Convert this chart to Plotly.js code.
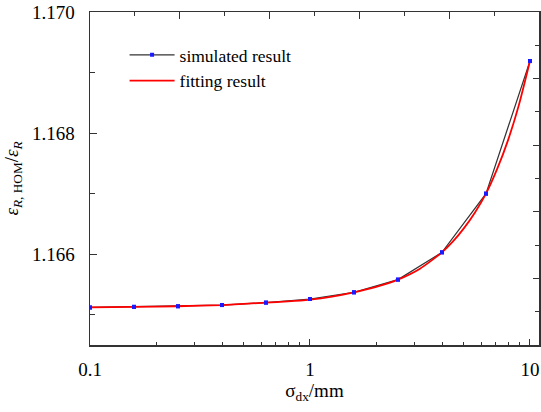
<!DOCTYPE html>
<html>
<head>
<meta charset="utf-8">
<script src="https://cdn.plot.ly/plotly-3.0.1.min.js"></script>
<style>html,body{margin:0;padding:0;background:#fff;}#chart{width:541px;height:412px;}</style>
</head>
<body>
<div id="chart"></div>
<script>
// simulated result
var simX = [0.1, 0.1585, 0.2512, 0.3981, 0.631, 1, 1.585, 2.512, 3.981, 6.31, 10];
var simY = [1.16512, 1.16513, 1.16514, 1.16516, 1.16520, 1.16526, 1.16537, 1.16558, 1.16603, 1.16700, 1.16919];
// fitting result
var fitX = [0.1, 0.1585, 0.2512, 0.3981, 0.631, 0.794, 1, 1.259, 1.585, 2.0, 2.512, 3.162, 3.981, 4.467, 5.012, 5.623, 6.31, 7.079, 7.943, 8.913, 10];
var fitY = [1.16512, 1.16513, 1.16514, 1.16516, 1.16520, 1.16522, 1.16525, 1.16530, 1.16537, 1.16546, 1.16558, 1.16576, 1.16603, 1.16621, 1.16643, 1.16669, 1.16700, 1.16740, 1.16788, 1.16847, 1.16919];
// axis ticks
var xTickVals = [0.1, 1, 10];
var xTickText = ['0.1', '1', '10'];
var yTickVals = [1.166, 1.168, 1.170];
var yTickText = ['1.166', '1.168', '1.170'];

var FONT = 'Liberation Serif, Times New Roman, serif';
var AX = '#333333';

var traces = [
  {x: simX, y: simY, mode: 'lines+markers', name: 'simulated result', legendrank: 1,
   line: {color: '#333333', width: 1.2}, marker: {symbol: 'square', size: 4, color: '#1a1aff'}},
  {x: fitX, y: fitY, mode: 'lines', name: 'fitting result', legendrank: 2,
   line: {color: '#ff0000', width: 1.8, shape: 'spline', smoothing: 0.6}},
  {x: simX, y: simY, mode: 'markers', showlegend: false, hoverinfo: 'skip',
   marker: {symbol: 'square', size: 4, color: '#1a1aff'}},
  {x: [], y: [], xaxis: 'x2', yaxis: 'y2', showlegend: false, hoverinfo: 'skip'}
];

var layout = {
  width: 541, height: 412,
  margin: {l: 90, r: 2, t: 12, b: 67},
  paper_bgcolor: '#ffffff', plot_bgcolor: '#ffffff',
  font: {family: FONT, size: 19, color: '#000'},
  showlegend: true,
  legend: {x: 0.077, y: 0.925, xanchor: 'left', yanchor: 'top', bgcolor: 'rgba(0,0,0,0)',
           font: {family: FONT, size: 17.5, color: '#000'}, itemwidth: 45, tracegroupgap: 0},
  xaxis: {
    type: 'log', range: [-1, 1.041], showgrid: false, zeroline: false,
    showline: true, linecolor: AX, linewidth: 1.5, mirror: false,
    tickmode: 'array', tickvals: xTickVals, ticktext: xTickText,
    ticks: 'inside', ticklen: 6, tickcolor: AX, tickwidth: 1,
    minor: {ticks: 'inside', ticklen: 3, tickcolor: AX, dtick: 'D1', showgrid: false},
    ticklabelstandoff: 7,
    tickfont: {family: FONT, size: 19, color: '#000'},
    title: {text: 'σ<sub>dx</sub>/mm', font: {family: FONT, size: 19, color: '#000'}, standoff: 4}
  },
  yaxis: {
    range: [1.1645, 1.170], showgrid: false, zeroline: false,
    showline: true, linecolor: AX, linewidth: 1.5, mirror: false,
    tickmode: 'array', tickvals: yTickVals, ticktext: yTickText,
    ticks: 'inside', ticklen: 7, tickcolor: AX, tickwidth: 1,
    minor: {ticks: 'inside', ticklen: 5, tickcolor: AX, dtick: 0.001, showgrid: false},
    ticklabelstandoff: 10,
    tickfont: {family: FONT, size: 19, color: '#000'},
    title: {text: '<i>ε</i><sub><i>R</i>, HOM</sub>/<i>ε</i><sub><i>R</i></sub>', font: {family: FONT, size: 19, color: '#000'}, standoff: 8}
  },
  xaxis2: {
    overlaying: 'x', side: 'top', anchor: 'y2', range: [0, 10], showgrid: false, zeroline: false,
    showline: true, linecolor: AX, linewidth: 1.5, showticklabels: false,
    dtick: 2, ticks: 'inside', ticklen: 7, tickcolor: AX, tickwidth: 1,
    minor: {ticks: 'inside', ticklen: 4, tickcolor: AX, dtick: 1, showgrid: false}
  },
  yaxis2: {
    overlaying: 'y', side: 'right', anchor: 'x2', range: [0, 10], showgrid: false, zeroline: false,
    showline: true, linecolor: AX, linewidth: 1.5, showticklabels: false,
    dtick: 2, ticks: 'inside', ticklen: 6, tickcolor: AX, tickwidth: 1,
    minor: {ticks: 'inside', ticklen: 4, tickcolor: AX, dtick: 1, showgrid: false}
  }
};

Plotly.newPlot('chart', traces, layout, {staticPlot: true, displayModeBar: false});
</script>
</body>
</html>
